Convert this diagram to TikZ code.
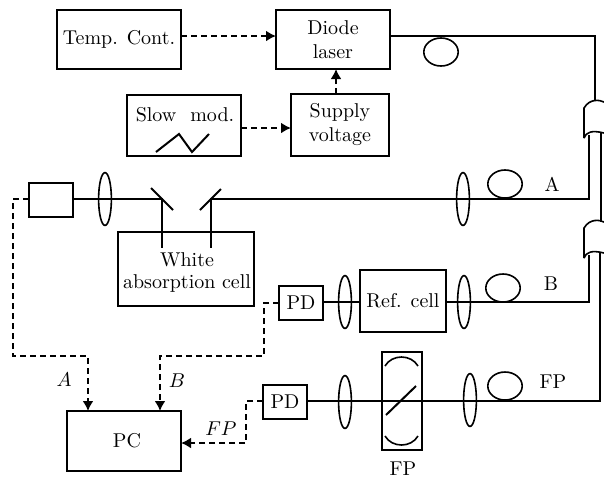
\documentclass[tikz,border=0pt]{standalone}
\usepackage{amsmath}
\usetikzlibrary{arrows.meta}
\tikzset{
  box/.style={draw, line width=1pt, inner sep=0pt, outer sep=0pt, align=center, font=\fontsize{10}{12}\selectfont},
  fiber/.style={line width=1pt},
  signal/.style={line width=1pt, dash pattern=on 3pt off 2pt, -{Latex[length=5pt,width=5.5pt]}},
  optic/.style={line width=0.8pt},
  tag/.style={inner sep=0pt, outer sep=0pt, font=\fontsize{10}{12}\selectfont},
}
\newcommand{\lens}[2]{\draw[optic] (#1,#2) ellipse (3.2pt and 13.2pt);}
\newcommand{\loopcoil}[2]{\draw[optic] (#1,#2) ellipse (8.6pt and 7pt);}
\begin{document}
\begin{tikzpicture}[x=0.5pt, y=-0.5pt]
\useasboundingbox (0,0) rectangle (604,478);
% boxes
\node[box, minimum width=62pt, minimum height=29.5pt] (temp) at (119,39.5) {Temp. Cont.};
\node[box, minimum width=57pt, minimum height=29.5pt] (laser) at (333,39.5) {Diode\\laser};
\node[box, minimum width=57pt, minimum height=30.5pt] (slow) at (184,125.5) {};
\node[tag] (slowtext) at (185,115) {Slow\hspace{0.7em}mod.};
\node[box, minimum width=49pt, minimum height=31pt] (supply) at (340,125) {Supply\\voltage};
\node[box, minimum width=22pt, minimum height=17pt] (det) at (51,200) {};
\node[box, minimum width=68pt, minimum height=37pt] (white) at (186,269) {};
\node[tag, align=center] (whitetext) at (187,272) {White\\[-1pt]absorption cell};
\node[box, minimum width=22pt, minimum height=17pt] (pda) at (301,303) {PD};
\node[box, minimum width=43pt, minimum height=31pt] (ref) at (403,301) {Ref. cell};
\node[box, minimum width=22pt, minimum height=17pt] (pdb) at (285,402) {PD};
\node[box, minimum width=20pt, minimum height=49pt] (fpbox) at (402,401) {};
\node[box, minimum width=57pt, minimum height=30pt] (pc) at (124,441) {\hspace{3pt}PC};
% corners
\coordinate (c1) at (595,36);
\coordinate (c2) at (595,100);
\coordinate (a1) at (589,135);
\coordinate (a2) at (589,199);
\coordinate (a3) at (211,199);
\coordinate (a4) at (211,248);
\coordinate (a5) at (162,199);
\coordinate (a6) at (162,248);
\coordinate (b1) at (589,255);
\coordinate (b2) at (589,302);
\coordinate (f1) at (601,133);
\coordinate (f2) at (601,222);
\coordinate (f3) at (600,253);
\coordinate (f4) at (600,401);
% fibers
\draw[fiber] (laser.east |- 0,36) -- (c1) -- (c2);
\draw[fiber] (a1) -- (a2) -- (a3) -- (a4);
\draw[fiber] (det.east |- a5) -- (a5) -- (a6);
\draw[fiber] (b1) -- (b2) -- (ref.east |- b2);
\draw[fiber] (ref.west |- b2) -- (pda.east |- b2);
\draw[fiber] (f1) -- (f2);
\draw[fiber] (f3) -- (f4) -- (pdb.east |- f4);
% couplers
\foreach \yy in {0,120} {
  \draw[optic] (604,\yy+102) .. controls (600,\yy+100) and (590,\yy+98) .. (584,\yy+108) -- (584,\yy+138);
  \draw[optic] (584,\yy+138) .. controls (586,\yy+132) and (592,\yy+130) .. (604,\yy+133);
}
% lenses
\lens{105}{199}
\lens{463}{199}
\lens{345}{302}
\lens{464}{302}
\lens{345}{402}
\lens{470}{400}
% coils
\loopcoil{441}{52}
\loopcoil{505}{184}
\loopcoil{503}{288}
\loopcoil{505}{386}
% mirrors
\draw[fiber] (151,188) -- (173,210);
\draw[fiber] (200,210) -- (221,189);
\draw[fiber] (386,415) -- (416,386);
\draw[optic] (385,366) .. controls (392,354) and (411,354) .. (418,366);
\draw[optic] (385,436) .. controls (392,448) and (411,448) .. (418,436);
\draw[fiber] (156,152) -- (179,134) -- (192,152) -- (209,134);
% signals
\draw[signal] (temp.east |- 0,36) -- (laser.west |- 0,36);
\draw[signal] (supply.north -| 336,0) -- (laser.south -| 336,0);
\draw[signal] (slow.east |- 0,128) -- (supply.west |- 0,128);
\draw[signal] (det.west |- 0,199) -- (13,199) -- (13,356) -- (88,356) -- (pc.north -| 88,0);
\draw[signal] (pda.west) -- (264,303) -- (264,356) -- (160,356) -- (pc.north -| 160,0);
\draw[signal] (pdb.west |- 0,401) -- (246,401) -- (246,443) -- (pc.east |- 0,443);
% labels
\node[tag] (la) at (552,184) {A};
\node[tag] (lb) at (551,284) {B};
\node[tag] (lf) at (553,382) {FP};
\node[tag] (lfp) at (403,469) {FP};
\node[tag] (sa) at (64,380) {$A$};
\node[tag] (sb) at (177,381) {$B$};
\node[tag] (sf) at (221,429) {$FP$};
\end{tikzpicture}
\end{document}
